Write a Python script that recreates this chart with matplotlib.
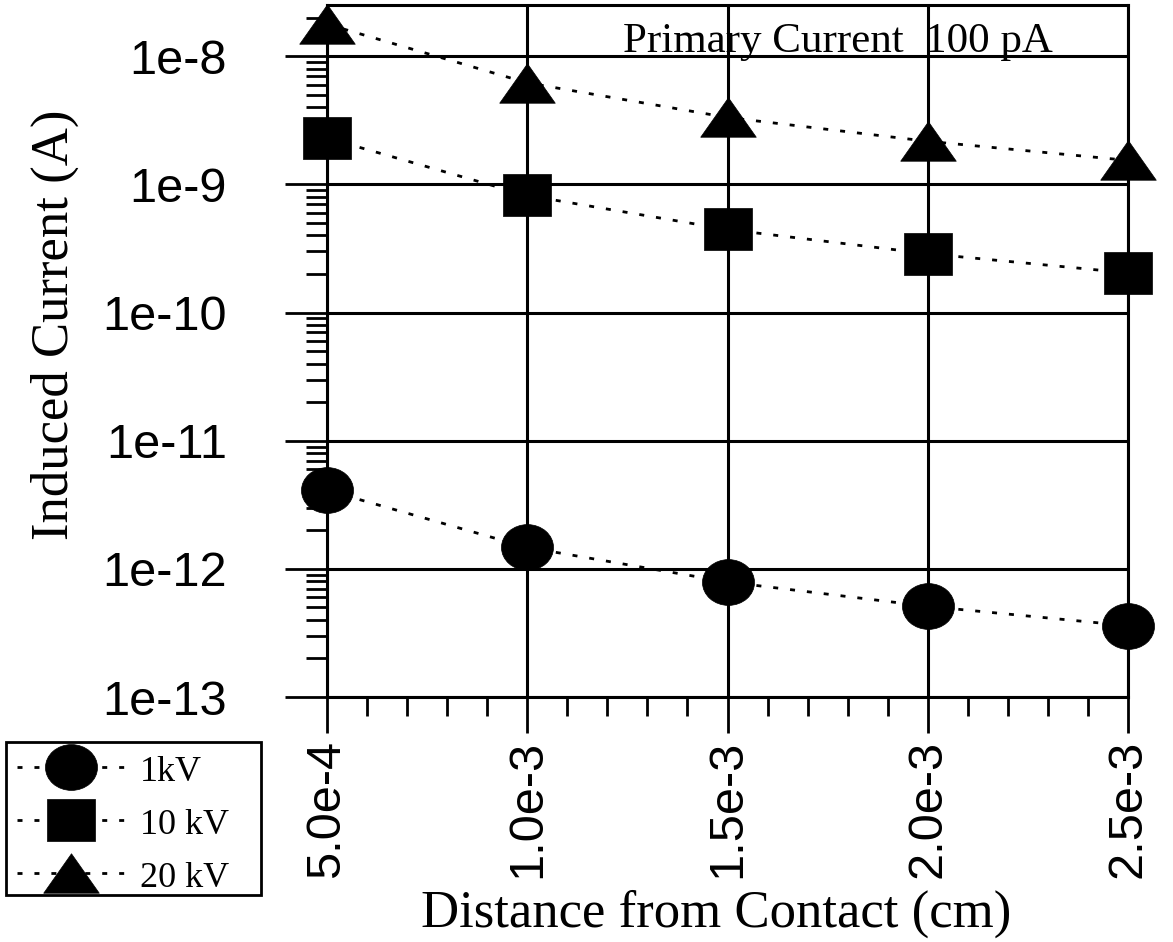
import numpy as np
import matplotlib
matplotlib.use("Agg")
import matplotlib.pyplot as plt
from matplotlib.path import Path
from matplotlib.patches import Rectangle
from matplotlib.transforms import Affine2D
from matplotlib.ticker import LogLocator, FixedLocator, MultipleLocator, NullFormatter

# Data
distance = [5.0e-4, 1.0e-3, 1.5e-3, 2.0e-3, 2.5e-3]          # cm
current_1kv = [4.1e-12, 1.47e-12, 7.9e-13, 5.1e-13, 3.6e-13]  # A
current_10kv = [2.3e-9, 8.2e-10, 4.45e-10, 2.88e-10, 2.04e-10]
current_20kv = [1.78e-8, 6.2e-9, 3.33e-9, 2.17e-9, 1.54e-9]
series_labels = ["1kV", "10 kV", "20 kV"]
x_ticklabels = ["5.0e-4", "1.0e-3", "1.5e-3", "2.0e-3", "2.5e-3"]
y_ticks = [1e-13, 1e-12, 1e-11, 1e-10, 1e-9, 1e-8]
y_ticklabels = ["1e-13", "1e-12", "1e-11", "1e-10", "1e-9", "1e-8"]

sans = "Liberation Sans"
serif = "Liberation Serif"

# marker shapes (the reference is a bit wider than tall)
circ = Affine2D().scale(1, 0.88).transform_path(Path.unit_circle())
sq = [(-1, -0.89), (1, -0.89), (1, 0.89), (-1, 0.89), (-1, -0.89)]
tri = [(-1, -0.71), (1, -0.71), (0, 0.71), (-1, -0.71)]

fig = plt.figure(figsize=(11.73, 9.42), dpi=100)
ax = fig.add_axes([327 / 1173, 1 - 697 / 942, 801 / 1173, 692 / 942])

line_kw = dict(color="black", lw=2, ls=(0, (1.8, 4.3)), mfc="black",
               mec="black", mew=0.5, clip_on=False, zorder=3)
ax.plot(distance, current_1kv, marker=circ, ms=37.5, label=series_labels[0], **line_kw)
ax.plot(distance, current_10kv, marker=sq, ms=34, label=series_labels[1], **line_kw)
ax.plot(distance, current_20kv, marker=tri, ms=40, label=series_labels[2], **line_kw)

ax.set_yscale("log")
ax.set_xlim(5e-4, 2.5e-3)
ax.set_ylim(1e-13, 10 ** -7.6)

ax.xaxis.set_major_locator(FixedLocator(distance))
ax.xaxis.set_minor_locator(MultipleLocator(1e-4))
ax.set_xticklabels(x_ticklabels, rotation=90, fontsize=35, family=sans)

ax.yaxis.set_major_locator(FixedLocator(y_ticks))
ax.set_yticklabels(y_ticklabels, fontsize=35, family=sans)
ax.yaxis.set_minor_locator(LogLocator(base=10, subs=np.arange(2, 10), numticks=20))
ax.yaxis.set_minor_formatter(NullFormatter())

ax.tick_params(axis="x", which="major", direction="out", length=26, width=2, pad=5)
ax.tick_params(axis="x", which="minor", direction="out", length=14, width=2)
ax.tick_params(axis="y", which="major", direction="out", length=30, width=2, pad=42)
ax.tick_params(axis="y", which="minor", direction="out", length=15, width=2)

ax.grid(True, which="major", color="black", lw=2.2)
for s in ax.spines.values():
    s.set_linewidth(2.2)

ax.set_xlabel("Distance from Contact (cm)", fontsize=38, family=serif)
ax.set_ylabel("Induced Current (A)", fontsize=38, family=serif)
ax.xaxis.set_label_coords(0.4856, -0.279)
ax.yaxis.set_label_coords(-0.31, 0.5376)

ax.text(1.239e-3, 1.074e-8, "Primary Current  100 pA", fontsize=31,
        family=serif, va="baseline", ha="left")

# legend sits below the y axis labels, boxed separately
leg = fig.legend(loc="upper left", bbox_to_anchor=(6 / 1173, 1 - 742 / 942),
                 bbox_transform=fig.transFigure, borderaxespad=0,
                 prop={"family": serif, "size": 26}, frameon=False,
                 borderpad=0.3, handlelength=3.0, handleheight=1.0,
                 labelspacing=0.45, handletextpad=0.4, numpoints=1)
box = Rectangle((6 / 1173, 1 - 895 / 942), 255 / 1173, 153 / 942,
                transform=fig.transFigure, fill=False, ec="black", lw=2)
fig.patches.append(box)

fig.savefig("out.png", dpi=100)
